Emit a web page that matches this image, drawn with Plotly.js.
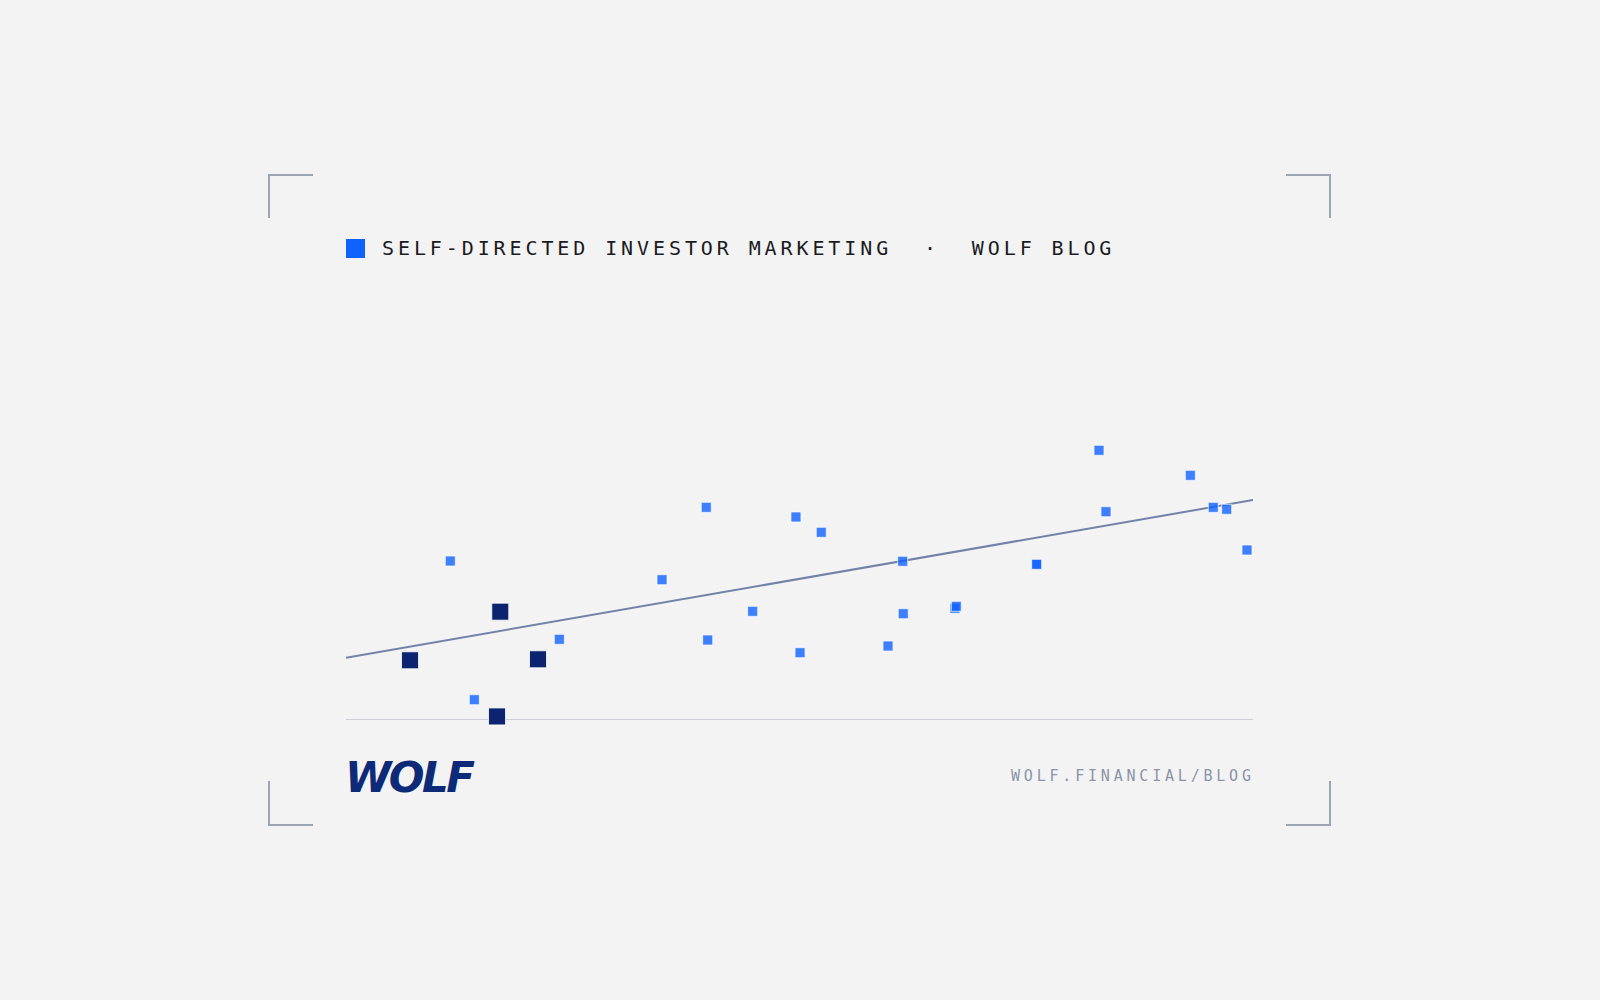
<!DOCTYPE html>
<html>
<head>
<meta charset="utf-8">
<script src="https://cdn.plot.ly/plotly-3.0.1.min.js"></script>
<style>
  html, body { margin: 0; padding: 0; background: #f3f3f3; }
  #chart { width: 1600px; height: 1000px; }
  text.annotation-text[data-unformatted^="SELF"] { letter-spacing: 3.9px; }
  text.annotation-text[data-unformatted^="WOLF.FIN"] { letter-spacing: 3.8px; }
  text.annotation-text[data-unformatted="WOLF"] { letter-spacing: -2.5px; }
</style>
</head>
<body>
<div id="chart"></div>
<script>
// ---- data (arbitrary 0-100 units) ----
const lightX = [11.50, 14.15, 23.52, 34.84, 39.72, 39.88, 44.84, 49.61, 50.06, 52.40,
                59.76, 61.38, 61.44, 67.14, 67.29, 76.15, 76.15, 83.02, 83.79, 93.09,
                95.62, 97.10, 99.34];
const lightY = [37.95, 4.84, 19.26, 33.48, 50.76, 19.09, 25.94, 48.45, 16.06, 44.80,
                17.66, 37.88, 25.37, 26.66, 27.13, 37.16, 37.16, 64.37, 49.71, 58.40,
                50.76, 50.29, 40.57];
const darkX = [7.06, 17.01, 21.17, 16.65];
const darkY = [14.25, 25.85, 14.49, 0.85];
const trendX = [0, 100];
const trendY = [14.87, 52.50];

const headerText = "SELF-DIRECTED INVESTOR MARKETING  ·  WOLF BLOG";
const footerText = "WOLF.FINANCIAL/BLOG";
const logoText = "WOLF";

const W = 1600, H = 1000;
const px = x => x / W;
const py = y => 1 - y / H;

const bracketColor = "#9ca4b1";
function bracket(d) {
  return { type: "path", xref: "paper", yref: "paper", path: d,
           line: { color: bracketColor, width: 2 }, layer: "below" };
}
function pth(points) {
  return points.map((p, i) => (i ? "L " : "M ") + px(p[0]) + "," + py(p[1])).join(" ");
}

const traces = [
  { x: trendX, y: trendY, type: "scatter", mode: "lines",
    line: { color: "#7482a8", width: 2 }, hoverinfo: "skip", cliponaxis: false },
  { x: lightX, y: lightY, type: "scatter", mode: "markers", cliponaxis: false,
    marker: { symbol: "square", size: 10, color: "rgba(15,98,254,0.8)",
              line: { color: "rgba(255,255,255,0.7)", width: 1 } } },
  { x: darkX, y: darkY, type: "scatter", mode: "markers", cliponaxis: false,
    marker: { symbol: "square", size: 17, color: "#0c2470",
              line: { color: "rgba(255,255,255,0.8)", width: 1 } } }
];

const layout = {
  width: W, height: H,
  paper_bgcolor: "#f3f3f3", plot_bgcolor: "rgba(0,0,0,0)",
  margin: { l: 0, r: 0, t: 0, b: 0 },
  showlegend: false,
  xaxis: { domain: [346 / W, 1253 / W], range: [0, 100], visible: false, fixedrange: true },
  yaxis: { domain: [1 - 720 / H, 1 - 301 / H], range: [0, 100], visible: false, fixedrange: true },
  shapes: [
    { type: "line", xref: "x", yref: "y", x0: 0, x1: 100, y0: 0, y1: 0,
      line: { color: "#c0c4d2", width: 1.5 }, layer: "below" },
    { type: "rect", xref: "paper", yref: "paper",
      x0: px(346), x1: px(365), y0: py(258), y1: py(239),
      fillcolor: "#0f62fe", line: { width: 0 } },
    bracket(pth([[269, 218], [269, 175], [313, 175]])),
    bracket(pth([[1286, 175], [1330, 175], [1330, 218]])),
    bracket(pth([[269, 781], [269, 825], [313, 825]])),
    bracket(pth([[1286, 825], [1330, 825], [1330, 781]]))
  ],
  annotations: [
    { text: headerText, xref: "paper", yref: "paper", x: px(380), y: py(247.5),
      xanchor: "left", yanchor: "middle", align: "left", showarrow: false,
      font: { family: "DejaVu Sans Mono", size: 20, color: "#1b1b1f" } },
    { text: footerText, xref: "paper", yref: "paper", x: px(1009), y: py(775.5),
      xanchor: "left", yanchor: "middle", align: "left", showarrow: false,
      font: { family: "DejaVu Sans Mono", size: 15, color: "#8a93a8" } },
    { text: logoText, xref: "paper", yref: "paper", x: px(343), y: py(777),
      xanchor: "left", yanchor: "middle", align: "left", showarrow: false,
      font: { family: "DejaVu Sans", size: 42, weight: 700, style: "italic", color: "#0d2a78" } }
  ]
};

Plotly.newPlot("chart", traces, layout, { displayModeBar: false, staticPlot: true });
</script>
</body>
</html>
